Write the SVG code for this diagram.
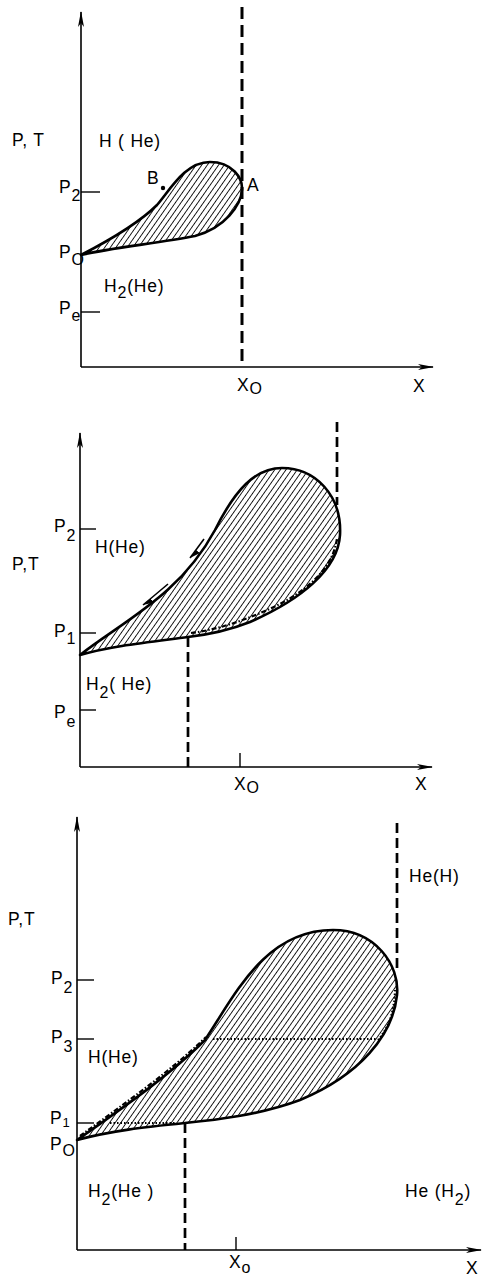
<svg xmlns="http://www.w3.org/2000/svg" width="482" height="1278" viewBox="0 0 482 1278">
<style>
text{font-family:"Liberation Sans",Arial,sans-serif;font-size:17.5px;fill:#000;letter-spacing:0.8px}
.sb{font-size:16px}
.ax{stroke:#000;stroke-width:1.6;fill:none}
.tk{stroke:#000;stroke-width:1.4;fill:none}
.lobe{fill:url(#hatch);stroke:#000;stroke-width:2.6;stroke-linejoin:round}
.dash{stroke:#000;stroke-width:2.7;fill:none;stroke-dasharray:10 5}
.dot{stroke:#000;stroke-width:2;fill:none;stroke-dasharray:1.5 2}
.dd{stroke:#000;stroke-width:2.2;fill:none;stroke-dasharray:5 2 1.5 2}
</style>
<defs>
<pattern id="hatch" width="4.6" height="10" patternUnits="userSpaceOnUse" patternTransform="rotate(35)">
<line x1="2.3" y1="0" x2="2.3" y2="10" stroke="#000" stroke-width="0.9"/>
</pattern>
<marker id="ah" viewBox="0 0 16 6" refX="15" refY="3" markerWidth="16" markerHeight="6" orient="auto" markerUnits="userSpaceOnUse">
<path d="M0,0 L16,3 L0,6 L4,3 Z" fill="#000"/>
</marker>
<marker id="harp" viewBox="0 0 10 6" refX="10" refY="5" markerWidth="10" markerHeight="6" orient="auto" markerUnits="userSpaceOnUse">
<path d="M0,0 L10,5 L0,5 Z" fill="#000"/>
</marker>
</defs>
<rect width="482" height="1278" fill="#fff"/>

<!-- Panel 1 -->
<g id="p1-axes">
<line class="ax" x1="81" y1="367" x2="81" y2="12" marker-end="url(#ah)"/>
<line class="ax" x1="81" y1="367" x2="433" y2="367" marker-end="url(#ah)"/>
<line class="tk" x1="81" y1="192" x2="100" y2="192"/>
<line class="tk" x1="81" y1="312" x2="100" y2="312"/>
</g>
<g id="p1-lobe">
<path class="lobe" d="M81,255 C110,240 140,222 157,205 C170,190 185,162 210,162 C232,162 243,178 242,190 C241,205 225,228 195,236 C160,243 110,248 81,255 Z"/>
<circle cx="163" cy="188" r="2.2" fill="#000"/>
</g>
<g id="p1-connectors">
<line class="dash" x1="242" y1="7" x2="242" y2="367" style="stroke-width:3;stroke-dasharray:12 6"/>
</g>
<g id="p1-labels">
<text x="12" y="146">P, T</text>
<text x="99" y="147">H ( He)</text>
<text x="147" y="184">B</text>
<text x="247" y="191">A</text>
<text x="59" y="193">P<tspan class="sb" dy="8">2</tspan></text>
<text x="59" y="258">P<tspan class="sb" dy="7">O</tspan></text>
<text x="104" y="292">H<tspan class="sb" dy="6">2</tspan><tspan dy="-6">(He)</tspan></text>
<text x="59" y="314">P<tspan class="sb" dy="7">e</tspan></text>
<text x="237" y="391">X<tspan class="sb" dy="3">O</tspan></text>
<text x="413" y="392">X</text>
</g>

<!-- Panel 2 -->
<g id="p2-axes">
<line class="ax" x1="80" y1="767" x2="80" y2="433" marker-end="url(#ah)"/>
<line class="ax" x1="80" y1="767" x2="432" y2="767" marker-end="url(#ah)"/>
<line class="tk" x1="80" y1="529" x2="96" y2="529"/>
<line class="tk" x1="80" y1="633" x2="96" y2="633"/>
<line class="tk" x1="80" y1="710" x2="96" y2="710"/>
<line class="tk" x1="240" y1="767" x2="240" y2="753"/>
</g>
<g id="p2-lobe">
<path class="lobe" d="M80,655 C125,620 180,595 215,530 C235,490 255,468 282,468 C315,468 342,495 340,535 C338,570 300,600 250,622 C225,632 205,635 188,637 C150,642 110,646 80,655 Z"/>
<path class="dd" d="M191,633 C215,630 240,622 265,611 C300,596 333,572 337,538"/>
</g>
<g id="p2-connectors">
<line class="dash" x1="337" y1="422" x2="337" y2="505"/>
<line class="dash" x1="188" y1="637" x2="188" y2="767"/>
<line x1="204" y1="539" x2="190" y2="558" stroke="#000" stroke-width="1.6" marker-end="url(#harp)"/>
<line x1="168" y1="584" x2="143" y2="605" stroke="#000" stroke-width="1.6" marker-end="url(#harp)"/>
</g>
<g id="p2-labels">
<text x="54" y="532">P<tspan class="sb" dy="9">2</tspan></text>
<text x="95" y="553">H(He)</text>
<text x="12" y="570">P,T</text>
<text x="54" y="637">P<tspan class="sb" dy="7">1</tspan></text>
<text x="86" y="690">H<tspan class="sb" dy="8">2</tspan><tspan dy="-8">( He)</tspan></text>
<text x="54" y="718">P<tspan class="sb" dy="9">e</tspan></text>
<text x="234" y="790">X<tspan class="sb" dy="3">O</tspan></text>
<text x="415" y="790">X</text>
</g>

<!-- Panel 3 -->
<g id="p3-axes">
<line class="ax" x1="77" y1="1250" x2="77" y2="817" marker-end="url(#ah)"/>
<line class="ax" x1="77" y1="1250" x2="481" y2="1250" marker-end="url(#ah)"/>
<line class="tk" x1="77" y1="980" x2="94" y2="980"/>
<line class="tk" x1="77" y1="1039" x2="94" y2="1039"/>
<line class="tk" x1="77" y1="1123" x2="94" y2="1123"/>
<line class="tk" x1="236" y1="1250" x2="236" y2="1237"/>
</g>
<g id="p3-lobe">
<path class="lobe" d="M77,1140 C120,1110 170,1075 205,1040 C235,995 265,930 333,930 C375,930 400,965 397,995 C393,1035 360,1075 300,1100 C260,1115 215,1120 185,1123 C145,1127 110,1131 77,1140 Z"/>
<path class="dd" d="M80,1136 C121,1106 170,1072 206,1037"/>
<path class="dot" d="M378,1040 C389,1027 394,1012 395,990"/>
</g>
<g id="p3-connectors">
<line class="dash" x1="397" y1="823" x2="397" y2="970"/>
<line class="dash" x1="185" y1="1123" x2="185" y2="1250"/>
<line class="dot" x1="213" y1="1039" x2="377" y2="1039"/>
<line class="dot" x1="110" y1="1123" x2="175" y2="1123"/>
</g>
<g id="p3-labels">
<text x="409" y="882">He(H)</text>
<text x="8" y="925">P,T</text>
<text x="51" y="984">P<tspan class="sb" dy="9">2</tspan></text>
<text x="51" y="1043">P<tspan class="sb" dy="9">3</tspan></text>
<text x="88" y="1063">H(He)</text>
<text x="50" y="1124">P<tspan font-size="13" dy="3">1</tspan></text>
<text x="50" y="1150">P<tspan class="sb" dy="6">O</tspan></text>
<text x="88" y="1197">H<tspan class="sb" dy="8">2</tspan><tspan dy="-8">(He )</tspan></text>
<text x="405" y="1197">He (H<tspan class="sb" dy="8">2</tspan><tspan dy="-8">)</tspan></text>
<text x="229" y="1268">X<tspan class="sb" dy="5">o</tspan></text>
<text x="466" y="1274" style="letter-spacing:0">X</text>
</g>
</svg>
